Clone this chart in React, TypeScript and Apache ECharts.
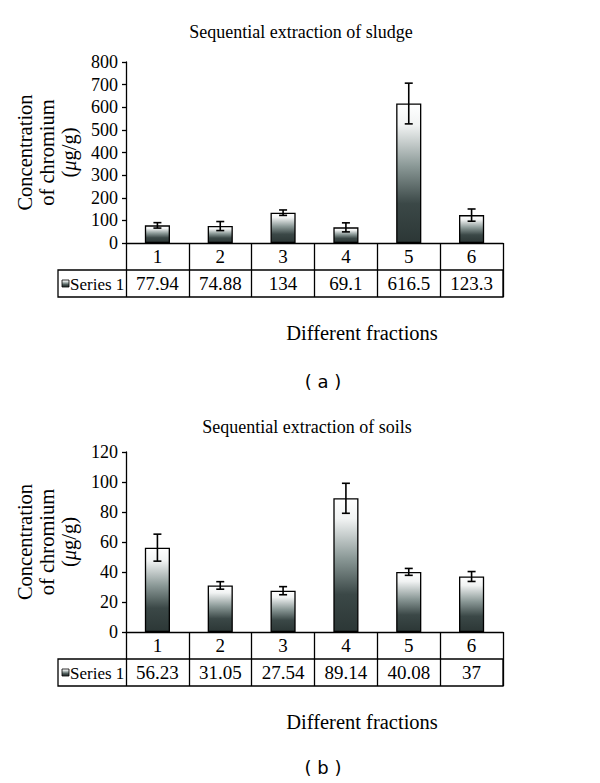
import React, { useEffect, useRef } from "react";
import * as echarts from "echarts";

const categories = ["1", "2", "3", "4", "5", "6"];
const sludgeValues = [77.94, 74.88, 134, 69.1, 616.5, 123.3];
const sludgeErrors = [12, 20, 12, 20, 90, 27];
const sludgeTicks = { min: 0, max: 800, interval: 100 };
const soilValues = [56.23, 31.05, 27.54, 89.14, 40.08, 37];
const soilErrors = [9, 2.5, 2.7, 10, 2.3, 3.3];
const soilTicks = { min: 0, max: 120, interval: 20 };
const seriesName = "Series 1";
const titles = ["Sequential extraction of sludge", "Sequential extraction of soils"];
const xTitle = "Different fractions";
const panelLabels = ["( a )", "( b )"];

const SERIF = "Liberation Serif";
const SANS = "DejaVu Sans";

const barGradient = () =>
  new echarts.graphic.LinearGradient(0, 0, 0, 1, [
    { offset: 0, color: "#ffffff" },
    { offset: 0.15, color: "#f1f3f3" },
    { offset: 0.45, color: "#8a9896" },
    { offset: 0.72, color: "#3b4847" },
    { offset: 1, color: "#2c3736" },
  ]);

export default function App() {
  const ref = useRef<HTMLDivElement>(null);
  useEffect(() => {
    document.body.style.margin = "0";
    const chart = echarts.init(ref.current!, null, { renderer: "svg" });

    const gridLeft = 126;
    const gridWidth = 377;
    const rowH = 27;
    const tableLeft = 58;
    const panels = [
      { top: 62, height: 181, values: sludgeValues, errors: sludgeErrors, ticks: sludgeTicks, titleY: 32, titleX: 301, xTitleY: 333, labelY: 381 },
      { top: 452, height: 180, values: soilValues, errors: soilErrors, ticks: soilTicks, titleY: 427, titleX: 307, xTitleY: 722, labelY: 767 },
    ];

    const grid: any[] = [];
    const xAxis: any[] = [];
    const yAxis: any[] = [];
    const series: any[] = [];
    const graphic: any[] = [];

    panels.forEach((p, gi) => {
      grid.push({ left: gridLeft, top: p.top, width: gridWidth, height: p.height, containLabel: false });
      xAxis.push({
        type: "category",
        gridIndex: gi,
        data: categories,
        position: "bottom",
        axisLine: { show: true, lineStyle: { color: "#000", width: 1.3 } },
        axisTick: { show: true, length: rowH * 2, lineStyle: { color: "#000", width: 1.3 } },
        axisLabel: { margin: 4, fontFamily: SERIF, fontSize: 19, color: "#000" },
      });
      xAxis.push({
        type: "category",
        gridIndex: gi,
        data: categories,
        position: "bottom",
        offset: rowH,
        axisLine: { show: false },
        axisTick: { show: false },
        axisLabel: {
          margin: 4,
          fontFamily: SERIF,
          fontSize: 19,
          color: "#000",
          formatter: (_v: string, idx: number) => String(p.values[idx]),
        },
      });
      yAxis.push({
        type: "value",
        gridIndex: gi,
        min: p.ticks.min,
        max: p.ticks.max,
        interval: p.ticks.interval,
        splitLine: { show: false },
        axisLine: { show: true, lineStyle: { color: "#000", width: 1.3 } },
        axisTick: { show: true, length: 4, lineStyle: { color: "#000", width: 1.3 } },
        axisLabel: { margin: 8, fontFamily: SERIF, fontSize: 18, color: "#000" },
        name: "{n|Concentration}\n{n|of chromium}\n{n|(}{i|μ}{n|g/g)}",
        nameLocation: "middle",
        nameRotate: 90,
        nameGap: 41,
        nameTextStyle: {
          lineHeight: 22,
          fontFamily: SERIF,
          rich: {
            n: { fontFamily: SERIF, fontSize: 20.5, color: "#000", lineHeight: 22 },
            i: { fontFamily: SERIF, fontSize: 20.5, color: "#000", fontStyle: "italic", lineHeight: 22 },
          },
        },
      });
      series.push({
        type: "bar",
        name: seriesName,
        xAxisIndex: gi * 2,
        yAxisIndex: gi,
        data: p.values,
        barWidth: "40%",
        itemStyle: { color: barGradient(), borderColor: "#000", borderWidth: 1.3 },
      });
      series.push({
        type: "custom",
        name: seriesName + " error",
        xAxisIndex: gi * 2,
        yAxisIndex: gi,
        data: p.values.map((v, i) => [i, v - p.errors[i], v + p.errors[i]]),
        z: 10,
        renderItem: (_params: any, api: any) => {
          const x = api.value(0);
          const lo = api.coord([x, api.value(1)]);
          const hi = api.coord([x, api.value(2)]);
          const half = 4;
          const style = { stroke: "#000", lineWidth: 1.6 };
          return {
            type: "group",
            children: [
              { type: "line", shape: { x1: lo[0], y1: lo[1], x2: hi[0], y2: hi[1] }, style },
              { type: "line", shape: { x1: lo[0] - half, y1: lo[1], x2: lo[0] + half, y2: lo[1] }, style },
              { type: "line", shape: { x1: hi[0] - half, y1: hi[1], x2: hi[0] + half, y2: hi[1] }, style },
            ],
          };
        },
      });

      const tableTop = p.top + p.height;
      graphic.push({
        type: "rect",
        shape: { x: tableLeft, y: tableTop + rowH, width: gridLeft + gridWidth - tableLeft, height: rowH },
        style: { fill: "none", stroke: "#000", lineWidth: 1.3 },
        silent: true,
      });
      graphic.push({
        type: "rect",
        shape: { x: tableLeft + 4, y: tableTop + rowH + rowH / 2 - 3.5, width: 7, height: 7 },
        style: { fill: barGradient(), stroke: "#000", lineWidth: 0.8 },
        silent: true,
      });
      graphic.push({
        type: "text",
        x: tableLeft + 12,
        y: tableTop + rowH + rowH / 2 + 1,
        style: { text: seriesName, font: `17px "${SERIF}"`, fill: "#000", textVerticalAlign: "middle", textAlign: "left" },
        silent: true,
      });
      graphic.push({
        type: "text",
        x: p.titleX,
        y: p.titleY,
        style: { text: titles[gi], font: `18px "${SERIF}"`, fill: "#000", textAlign: "center", textVerticalAlign: "middle" },
        silent: true,
      });
      graphic.push({
        type: "text",
        x: 362,
        y: p.xTitleY,
        style: { text: xTitle, font: `20.5px "${SERIF}"`, fill: "#000", textAlign: "center", textVerticalAlign: "middle" },
        silent: true,
      });
      graphic.push({
        type: "text",
        x: 323,
        y: p.labelY,
        style: { text: panelLabels[gi], font: `18px "${SANS}"`, fill: "#000", textAlign: "center", textVerticalAlign: "middle" },
        silent: true,
      });
    });

    chart.setOption({
      animation: false,
      backgroundColor: "#fff",
      grid,
      xAxis,
      yAxis,
      series,
      graphic,
    });
    return () => chart.dispose();
  }, []);
  return <div ref={ref} style={{ width: 600, height: 783 }} />;
}
